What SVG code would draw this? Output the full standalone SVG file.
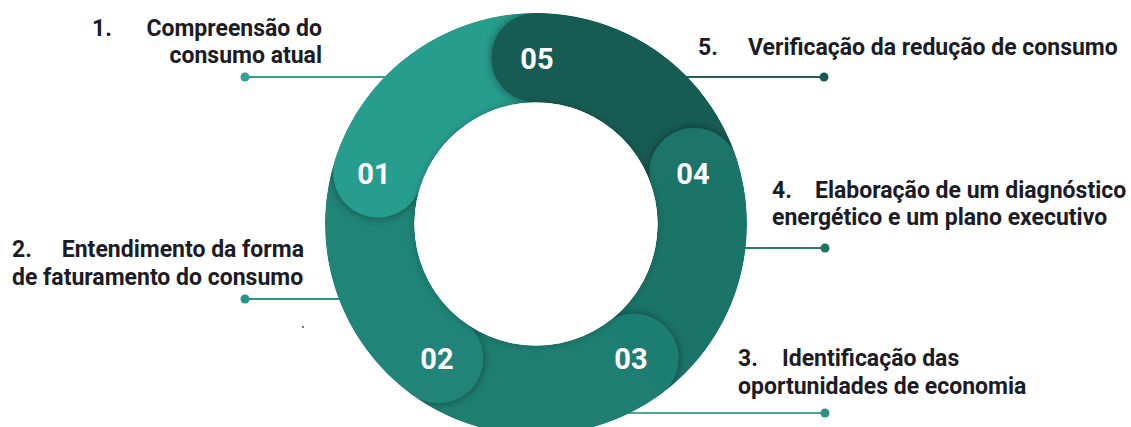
<svg xmlns="http://www.w3.org/2000/svg" width="1131" height="427" viewBox="0 0 1131 427">
<style>
.lbl{font-family:Roboto,"Liberation Sans",sans-serif;font-weight:700;font-size:23px;fill:#1c1c26}
.num{font-family:Roboto,"Liberation Sans",sans-serif;font-weight:700;font-size:29px;fill:#ffffff;text-anchor:middle}
.band{fill:none;stroke-width:90;stroke-linecap:butt}
.ln{stroke-width:2;fill:none}
</style>
<defs>
<filter id="sh" x="-50%" y="-50%" width="200%" height="200%">
<feDropShadow dx="0" dy="0" stdDeviation="5" flood-color="#000" flood-opacity="0.45"/>
</filter>
<filter id="ish" x="-30%" y="-30%" width="160%" height="160%">
<feDropShadow dx="0" dy="0" stdDeviation="4" flood-color="#000" flood-opacity="0.25"/>
</filter>
<clipPath id="ring">
<path fill-rule="evenodd" clip-rule="evenodd" d="M 325 224 A 211 211 0 1 0 747 224 A 211 211 0 1 0 325 224 Z M 414.5 224 A 121.5 121.5 0 1 0 657.5 224 A 121.5 121.5 0 1 0 414.5 224 Z"/>
</clipPath>
</defs>
<g id="connectors">
<line class="ln" x1="245" y1="77" x2="400" y2="77" stroke="#33a090"/>
<circle cx="245" cy="77" r="4.5" fill="#33a090"/>
<line class="ln" x1="245" y1="299" x2="350" y2="299" stroke="#2a9484"/>
<circle cx="245" cy="299" r="4.5" fill="#2a9484"/>
<line class="ln" x1="620" y1="413" x2="825" y2="413" stroke="#4aa898"/>
<circle cx="825" cy="413" r="4.5" fill="#2f8f80"/>
<line class="ln" x1="735" y1="248" x2="825" y2="248" stroke="#25806f"/>
<circle cx="825" cy="248" r="4.5" fill="#1f7465"/>
<line class="ln" x1="680" y1="77" x2="824" y2="77" stroke="#1f6257"/>
<circle cx="824" cy="77" r="4.5" fill="#1b5a50"/>
<circle cx="303" cy="327" r="0.9" fill="#333"/>
</g>
<g id="ring-segments" clip-path="url(#ring)">
<path class="band" stroke="#279d8e" d="M 377.89 172.63 A 166.25 166.25 0 0 1 536 57.75"/>
<g id="seg05">
<circle cx="536" cy="57.75" r="44.75" fill="#175c53" filter="url(#sh)"/>
<path class="band" stroke="#175c53" d="M 536 57.75 A 166.25 166.25 0 0 1 694.11 172.63"/>
</g>
<g id="seg04">
<circle cx="694.11" cy="172.63" r="44.75" fill="#1b7468" filter="url(#sh)"/>
<path class="band" stroke="#1b7468" d="M 694.11 172.63 A 166.25 166.25 0 0 1 633.72 358.5"/>
</g>
<g id="seg03">
<circle cx="633.72" cy="358.5" r="44.75" fill="#1e7e72" filter="url(#sh)"/>
<path class="band" stroke="#1e7e72" d="M 633.72 358.5 A 166.25 166.25 0 0 1 438.28 358.5"/>
</g>
<g id="seg02">
<circle cx="438.28" cy="358.5" r="44.75" fill="#208478" filter="url(#sh)"/>
<path class="band" stroke="#208478" d="M 438.28 358.5 A 166.25 166.25 0 0 1 377.89 172.63"/>
</g>
<g id="seg01">
<circle cx="377.89" cy="172.63" r="44.75" fill="#279d8e" filter="url(#sh)"/>
<path class="band" stroke="#279d8e" d="M 377.89 172.63 A 166.25 166.25 0 0 1 438 90"/>
</g>
</g>
<circle id="hole" cx="536" cy="224" r="121.5" fill="#ffffff" filter="url(#ish)"/>
<g id="numbers">
<text class="num" x="537" y="68.5">05</text>
<text class="num" x="693" y="183.5">04</text>
<text class="num" x="631" y="368.5">03</text>
<text class="num" x="437" y="368.5">02</text>
<text class="num" x="374" y="183.5">01</text>
</g>
<g id="label1">
<text class="lbl" x="92" y="36">1.</text>
<text class="lbl" x="322" y="36" text-anchor="end">Compreensão do</text>
<text class="lbl" x="322" y="63" text-anchor="end">consumo atual</text>
</g>
<g id="label2">
<text class="lbl" x="12" y="257">2.</text>
<text class="lbl" x="304" y="257" text-anchor="end">Entendimento da forma</text>
<text class="lbl" x="12" y="285">de faturamento do consumo</text>
</g>
<g id="label3">
<text class="lbl" x="738" y="366">3.</text>
<text class="lbl" x="782" y="366">Identificação das</text>
<text class="lbl" x="738" y="394">oportunidades de economia</text>
</g>
<g id="label4">
<text class="lbl" x="772" y="198">4.</text>
<text class="lbl" x="815" y="198">Elaboração de um diagnóstico</text>
<text class="lbl" x="772" y="225">energético e um plano executivo</text>
</g>
<g id="label5">
<text class="lbl" x="698" y="55">5.</text>
<text class="lbl" x="748" y="55">Verificação da redução de consumo</text>
</g>
</svg>
